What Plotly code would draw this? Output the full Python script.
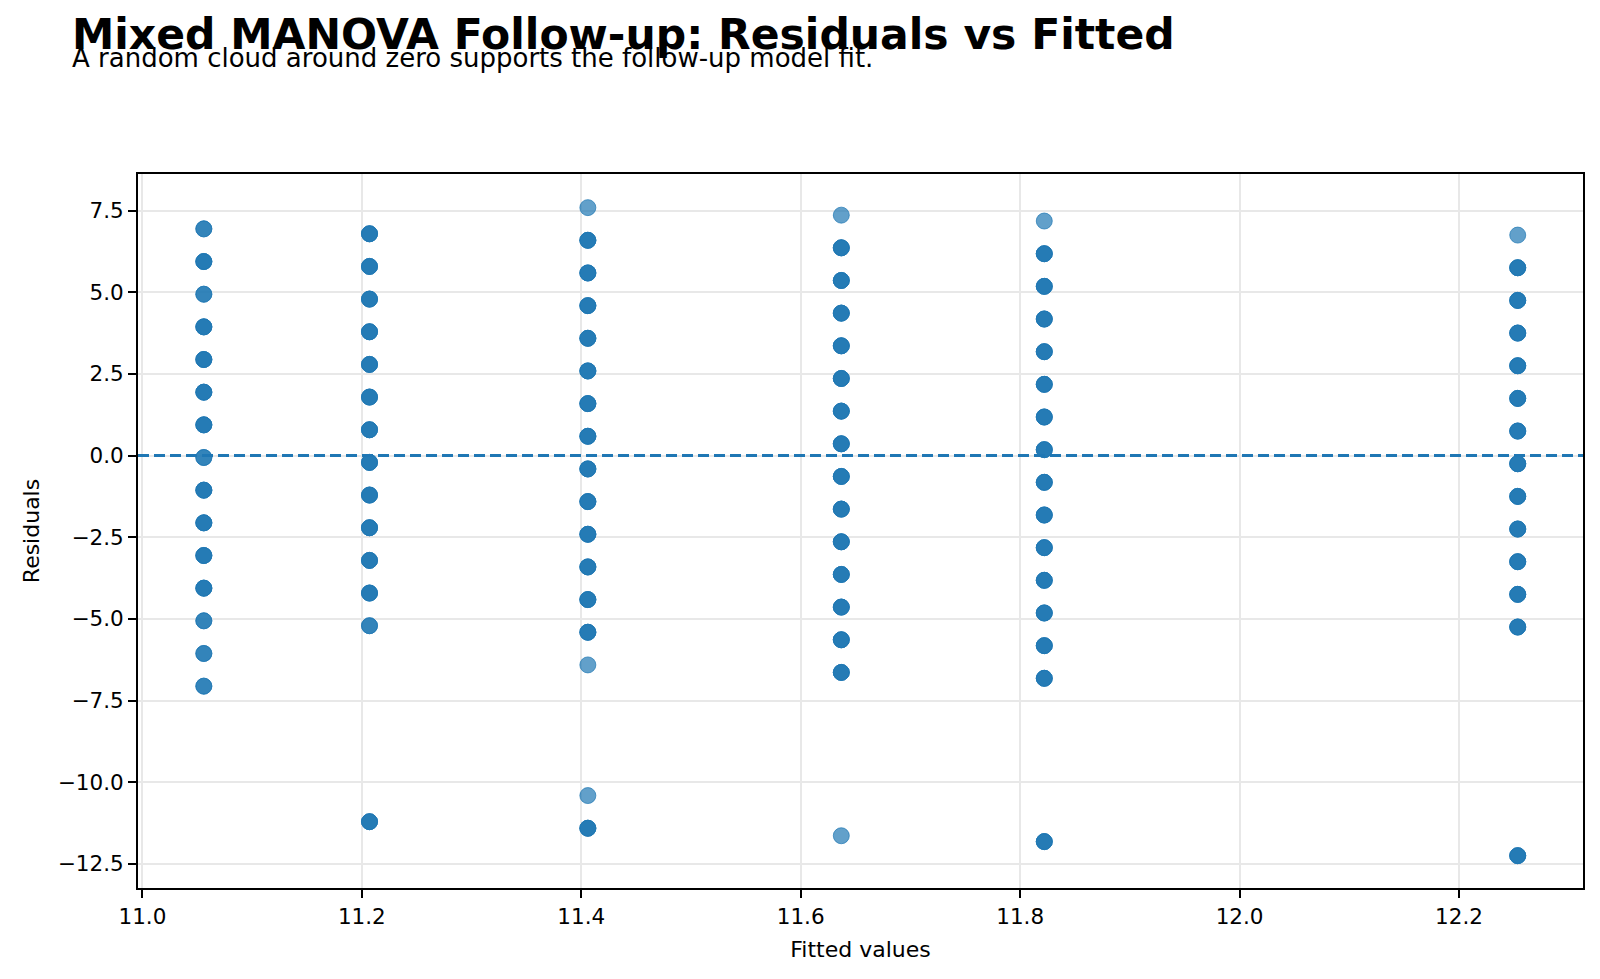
import plotly.graph_objects as go

# ---- data ----
fitted_groups = [11.056, 11.207, 11.406, 11.637, 11.822, 12.2535]

resid_g1 = [6.94, 5.94, 4.94, 3.94, 2.94, 1.94, 0.94, -0.06, -1.06, -2.06, -3.06, -4.06, -5.06, -6.06, -7.06]
count_g1 = [2, 3, 2, 3, 3, 3, 3, 2, 3, 3, 3, 3, 2, 2, 2]

resid_g2 = [6.79, 5.79, 4.79, 3.79, 2.79, 1.79, 0.79, -0.21, -1.21, -2.21, -3.21, -4.21, -5.21, -11.21]
count_g2 = [3, 3, 3, 3, 3, 3, 3, 3, 3, 3, 3, 3, 2, 3]

resid_g3 = [7.59, 6.59, 5.59, 4.59, 3.59, 2.59, 1.59, 0.59, -0.41, -1.41, -2.41, -3.41, -4.41, -5.41, -6.41, -10.41, -11.41]
count_g3 = [1, 3, 3, 3, 3, 3, 3, 3, 3, 3, 3, 3, 3, 3, 1, 1, 3]

resid_g4 = [7.36, 6.36, 5.36, 4.36, 3.36, 2.36, 1.36, 0.36, -0.64, -1.64, -2.64, -3.64, -4.64, -5.64, -6.64, -11.64]
count_g4 = [1, 3, 3, 3, 3, 3, 3, 3, 3, 3, 3, 3, 3, 3, 3, 1]

resid_g5 = [7.18, 6.18, 5.18, 4.18, 3.18, 2.18, 1.18, 0.18, -0.82, -1.82, -2.82, -3.82, -4.82, -5.82, -6.82, -11.82]
count_g5 = [1, 3, 3, 3, 3, 3, 3, 3, 3, 3, 3, 3, 3, 3, 3, 3]

resid_g6 = [6.75, 5.75, 4.75, 3.75, 2.75, 1.75, 0.75, -0.25, -1.25, -2.25, -3.25, -4.25, -5.25, -12.25]
count_g6 = [1, 3, 3, 3, 3, 3, 3, 3, 3, 3, 3, 3, 3, 3]

x_tick_vals = [11.0, 11.2, 11.4, 11.6, 11.8, 12.0, 12.2]
x_tick_text = ["11.0", "11.2", "11.4", "11.6", "11.8", "12.0", "12.2"]
y_tick_vals = [7.5, 5.0, 2.5, 0.0, -2.5, -5.0, -7.5, -10.0, -12.5]
y_tick_text = ["7.5", "5.0", "2.5", "0.0", "\u22122.5", "\u22125.0", "\u22127.5", "\u221210.0", "\u221212.5"]

title_text = "Mixed MANOVA Follow-up: Residuals vs Fitted"
subtitle_text = "A random cloud around zero supports the follow-up model fit."

# ---- expand points (overlapping observations drawn repeatedly) ----
resids = [resid_g1, resid_g2, resid_g3, resid_g4, resid_g5, resid_g6]
counts = [count_g1, count_g2, count_g3, count_g4, count_g5, count_g6]
xs, ys = [], []
for fx, rr, cc in zip(fitted_groups, resids, counts):
    for r, c in zip(rr, cc):
        for _ in range(c):
            xs.append(fx)
            ys.append(r)

BLUE = "#1f77b4"
FONT = "DejaVu Sans"

fig = go.Figure()
fig.add_trace(go.Scatter(
    x=xs, y=ys, mode="markers",
    marker=dict(size=16, color="rgba(31,119,180,0.7)",
                line=dict(width=1, color="rgba(31,119,180,0.7)")),
    showlegend=False, hoverinfo="x+y",
))

fig.add_shape(type="line", xref="paper", x0=0, x1=1, yref="y", y0=0, y1=0,
              line=dict(color=BLUE, width=3, dash="11px,5px"), layer="above")

W, H = 1600, 979
ml, mr, mt, mb = 138, 17, 174, 91
ph = H - mt - mb
pw = W - ml - mr

def py(ypx):
    return (H - mb - ypx) / ph

def px(xpx):
    return (xpx - ml) / pw

fig.add_annotation(text="<b>" + title_text + "</b>", xref="paper", yref="paper",
                   x=px(70), y=py(8), xanchor="left", yanchor="top", showarrow=False,
                   font=dict(family=FONT, size=42.5, color="black"))
fig.add_annotation(text=subtitle_text, xref="paper", yref="paper",
                   x=px(70), y=py(41), xanchor="left", yanchor="top", showarrow=False,
                   font=dict(family=FONT, size=26, color="black"))

axis_common = dict(showline=True, linecolor="black", linewidth=2, mirror=True,
                   ticks="outside", ticklen=8, tickwidth=2, tickcolor="black",
                   showgrid=True, gridcolor="#e8e8e8", gridwidth=1.5, zeroline=False,
                   tickfont=dict(family=FONT, size=21.5, color="black"))

fig.update_xaxes(range=[10.996, 12.313], tickvals=x_tick_vals, ticktext=x_tick_text,
                 title=dict(text="Fitted values", font=dict(family=FONT, size=22, color="black"), standoff=14),
                 **axis_common)
fig.update_yaxes(range=[-13.24, 8.62], tickvals=y_tick_vals, ticktext=y_tick_text,
                 title=dict(text="Residuals", font=dict(family=FONT, size=22, color="black"), standoff=12),
                 **axis_common)

fig.update_layout(width=W, height=H, margin=dict(l=ml, r=mr, t=mt, b=mb),
                  plot_bgcolor="white", paper_bgcolor="white",
                  font=dict(family=FONT, color="black"))

fig.write_html("out.html")
